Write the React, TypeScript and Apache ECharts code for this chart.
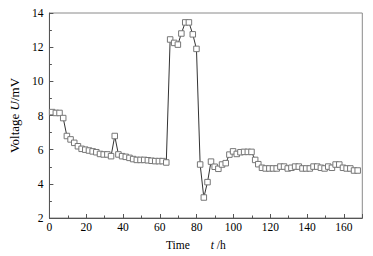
import React, { useEffect, useRef } from "react";
import * as echarts from "echarts";

const times: number[] = [
  1.5, 3.5, 5.5, 7.5, 9.5, 11.5, 13.5, 15.5, 17.5, 19.5, 21.5, 23.5, 25.5, 27.5, 29.5, 31.5,
  33.5, 35.5, 37.5, 39.5, 41.5, 43.5, 45.5, 47.5, 49.5, 51.5, 53.5, 55.5, 57.5, 59.5, 61.5, 63.5,
  65.6, 67.8, 69.8, 71.7, 73.8, 75.8, 77.9, 79.9, 81.9, 83.9, 85.9, 87.8, 89.8, 91.8, 93.8, 95.8,
  97.8, 99.8, 101.8, 103.8, 105.8, 107.8, 109.8, 111.8, 113.5,
  115.5, 117.5, 119.5, 121.5, 123.5, 125.5, 127.5, 129.5, 131.5, 133.5, 135.5, 137.5, 139.5,
  141.5, 143.5, 145.5, 147.5, 149.5, 151.5, 153.5, 155.5, 157.5, 159.5, 161.5, 163.5, 165.5, 167.5,
];

const voltages: number[] = [
  8.2, 8.15, 8.15, 7.85, 6.8, 6.6, 6.4, 6.2, 6.05, 6.0, 5.95, 5.9, 5.85, 5.75, 5.72, 5.72,
  5.62, 6.8, 5.72, 5.62, 5.58, 5.52, 5.45, 5.4, 5.4, 5.4, 5.38, 5.35, 5.33, 5.33, 5.33, 5.25,
  12.45, 12.25, 12.15, 12.8, 13.45, 13.45, 12.75, 11.9, 5.13, 3.2, 4.1, 5.3, 5.0, 4.88, 5.13, 5.21,
  5.71, 5.9, 5.75, 5.85, 5.87, 5.87, 5.87, 5.4, 5.15,
  4.94, 4.9, 4.9, 4.9, 4.9, 5.01, 5.01, 4.9, 4.94, 5.01, 5.01, 4.9, 4.9, 4.9,
  5.01, 5.01, 4.94, 4.9, 5.01, 4.94, 5.13, 5.13, 4.94, 4.9, 4.9, 4.78, 4.78,
];

const xTicks = { min: 0, max: 170, interval: 20 };
const yTicks = { min: 2, max: 14, interval: 2 };

const FONT = "Liberation Serif";

export default function App() {
  const ref = useRef<HTMLDivElement>(null);
  useEffect(() => {
    if (!ref.current) return;
    const chart = echarts.init(ref.current, undefined, { renderer: "svg" });
    const data = times.map((t, i) => [t, voltages[i]]);
    chart.setOption({
      animation: false,
      backgroundColor: "#fff",
      textStyle: { fontFamily: FONT },
      grid: {
        left: 46.6,
        right: 10.7,
        top: 13,
        bottom: 36,
        show: true,
        borderColor: "#8a8a8a",
        borderWidth: 1,
      },
      xAxis: {
        type: "value",
        min: xTicks.min,
        max: xTicks.max,
        interval: xTicks.interval,
        name: "{a|Time}{g|}{b|t}{a| /h}",
        nameLocation: "middle",
        nameGap: 21,
        nameTextStyle: {
          padding: [0, 20, 0, 0],
          rich: {
            a: { fontFamily: FONT, fontSize: 11.5, color: "#000" },
            g: { width: 21 },
            b: { fontFamily: FONT, fontSize: 11.5, fontStyle: "italic", color: "#000" },
          },
        },
        axisLine: { lineStyle: { color: "#555", width: 1 } },
        axisTick: { inside: true, length: 4, lineStyle: { color: "#555" } },
        minorTick: { show: true, splitNumber: 2, length: 2.5, lineStyle: { color: "#555" } },
        splitLine: { show: false },
        axisLabel: {
          fontFamily: FONT,
          fontSize: 11.5,
          color: "#000",
          margin: 3,
          showMaxLabel: false,
          formatter: (v: number) => (v > 160 ? "" : String(v)),
        },
      },
      yAxis: {
        type: "value",
        min: yTicks.min,
        max: yTicks.max,
        interval: yTicks.interval,
        name: "{a|Voltage }{b|U}{a|/mV}",
        nameLocation: "middle",
        nameGap: 25,
        nameRotate: 90,
        nameTextStyle: {
          rich: {
            a: { fontFamily: FONT, fontSize: 13, color: "#000" },
            b: { fontFamily: FONT, fontSize: 13, fontStyle: "italic", color: "#000" },
          },
        },
        axisLine: { show: true, lineStyle: { color: "#555", width: 1 } },
        axisTick: { show: true, inside: true, length: 4, lineStyle: { color: "#555" } },
        minorTick: { show: true, splitNumber: 2, length: 2.5, lineStyle: { color: "#555" } },
        splitLine: { show: false },
        axisLabel: { fontFamily: FONT, fontSize: 11.5, color: "#000", margin: 6 },
      },
      series: [
        {
          type: "line",
          data,
          symbol: "rect",
          symbolSize: 5.5,
          showAllSymbol: true,
          lineStyle: { color: "#333", width: 1 },
          itemStyle: { color: "#fff", borderColor: "#777", borderWidth: 1 },
          z: 3,
        },
      ],
    });
    return () => chart.dispose();
  }, []);
  return (
    <div
      ref={ref}
      style={{ position: "fixed", left: 0, top: 0, width: 373, height: 256 }}
    />
  );
}
